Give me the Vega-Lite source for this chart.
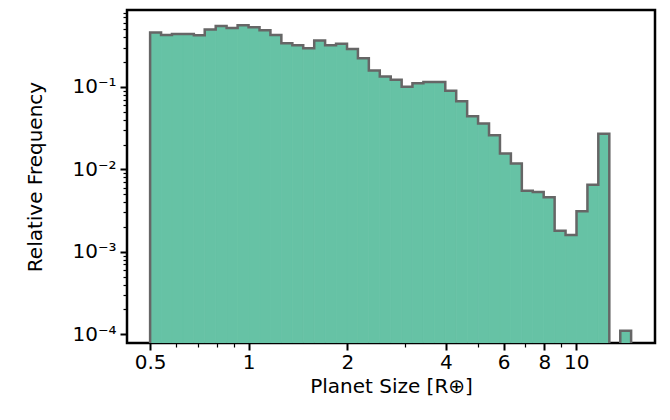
{
  "$schema": "https://vega.github.io/schema/vega-lite/v6.json",
  "width": 528,
  "height": 333,
  "autosize": {"type": "none"},
  "padding": {"left": 127, "top": 10, "right": 15, "bottom": 77},
  "config": {
    "view": {"stroke": "black", "strokeWidth": 2.5},
    "font": "DejaVu Sans",
    "axis": {"grid": false, "domain": false, "labelFont": "DejaVu Sans", "titleFont": "DejaVu Sans", "labelFontSize": 20, "titleFontSize": 20, "titleFontWeight": "normal", "labelColor": "black", "titleColor": "black", "tickColor": "black"}
  },
  "datasets": {
    "bins": [
      {"lo": 0.5, "hi": 0.54, "f": 0.457},
      {"lo": 0.54, "hi": 0.583, "f": 0.428},
      {"lo": 0.583, "hi": 0.63, "f": 0.44},
      {"lo": 0.63, "hi": 0.68, "f": 0.44},
      {"lo": 0.68, "hi": 0.734, "f": 0.425},
      {"lo": 0.734, "hi": 0.793, "f": 0.497},
      {"lo": 0.793, "hi": 0.856, "f": 0.55},
      {"lo": 0.856, "hi": 0.925, "f": 0.52},
      {"lo": 0.925, "hi": 0.999, "f": 0.56},
      {"lo": 0.999, "hi": 1.079, "f": 0.53},
      {"lo": 1.079, "hi": 1.165, "f": 0.49},
      {"lo": 1.165, "hi": 1.258, "f": 0.428},
      {"lo": 1.258, "hi": 1.359, "f": 0.339},
      {"lo": 1.359, "hi": 1.467, "f": 0.32},
      {"lo": 1.467, "hi": 1.585, "f": 0.295},
      {"lo": 1.585, "hi": 1.711, "f": 0.366},
      {"lo": 1.711, "hi": 1.848, "f": 0.32},
      {"lo": 1.848, "hi": 1.996, "f": 0.335},
      {"lo": 1.996, "hi": 2.155, "f": 0.29},
      {"lo": 2.155, "hi": 2.327, "f": 0.223},
      {"lo": 2.327, "hi": 2.513, "f": 0.158},
      {"lo": 2.513, "hi": 2.714, "f": 0.134},
      {"lo": 2.714, "hi": 2.931, "f": 0.122},
      {"lo": 2.931, "hi": 3.162, "f": 0.101},
      {"lo": 3.162, "hi": 3.415, "f": 0.111},
      {"lo": 3.415, "hi": 3.688, "f": 0.115},
      {"lo": 3.688, "hi": 3.983, "f": 0.115},
      {"lo": 3.983, "hi": 4.301, "f": 0.09},
      {"lo": 4.301, "hi": 4.645, "f": 0.067},
      {"lo": 4.645, "hi": 5.016, "f": 0.044},
      {"lo": 5.016, "hi": 5.417, "f": 0.036},
      {"lo": 5.417, "hi": 5.85, "f": 0.026},
      {"lo": 5.85, "hi": 6.317, "f": 0.0156},
      {"lo": 6.317, "hi": 6.822, "f": 0.0118},
      {"lo": 6.822, "hi": 7.367, "f": 0.0055},
      {"lo": 7.367, "hi": 7.956, "f": 0.0053},
      {"lo": 7.956, "hi": 8.592, "f": 0.0046},
      {"lo": 8.592, "hi": 9.278, "f": 0.0018},
      {"lo": 9.278, "hi": 10.02, "f": 0.0016},
      {"lo": 10.02, "hi": 10.82, "f": 0.0031},
      {"lo": 10.82, "hi": 11.68, "f": 0.0065},
      {"lo": 11.68, "hi": 12.62, "f": 0.027},
      {"lo": 13.63, "hi": 14.71, "f": 0.00011}
    ],
    "outline": [
      {"x": 0.5, "f": 0.00001, "seg": 1},
      {"x": 0.5, "f": 0.457, "seg": 1},
      {"x": 0.54, "f": 0.428, "seg": 1},
      {"x": 0.583, "f": 0.44, "seg": 1},
      {"x": 0.63, "f": 0.44, "seg": 1},
      {"x": 0.68, "f": 0.425, "seg": 1},
      {"x": 0.734, "f": 0.497, "seg": 1},
      {"x": 0.793, "f": 0.55, "seg": 1},
      {"x": 0.856, "f": 0.52, "seg": 1},
      {"x": 0.925, "f": 0.56, "seg": 1},
      {"x": 0.999, "f": 0.53, "seg": 1},
      {"x": 1.079, "f": 0.49, "seg": 1},
      {"x": 1.165, "f": 0.428, "seg": 1},
      {"x": 1.258, "f": 0.339, "seg": 1},
      {"x": 1.359, "f": 0.32, "seg": 1},
      {"x": 1.467, "f": 0.295, "seg": 1},
      {"x": 1.585, "f": 0.366, "seg": 1},
      {"x": 1.711, "f": 0.32, "seg": 1},
      {"x": 1.848, "f": 0.335, "seg": 1},
      {"x": 1.996, "f": 0.29, "seg": 1},
      {"x": 2.155, "f": 0.223, "seg": 1},
      {"x": 2.327, "f": 0.158, "seg": 1},
      {"x": 2.513, "f": 0.134, "seg": 1},
      {"x": 2.714, "f": 0.122, "seg": 1},
      {"x": 2.931, "f": 0.101, "seg": 1},
      {"x": 3.162, "f": 0.111, "seg": 1},
      {"x": 3.415, "f": 0.115, "seg": 1},
      {"x": 3.688, "f": 0.115, "seg": 1},
      {"x": 3.983, "f": 0.09, "seg": 1},
      {"x": 4.301, "f": 0.067, "seg": 1},
      {"x": 4.645, "f": 0.044, "seg": 1},
      {"x": 5.016, "f": 0.036, "seg": 1},
      {"x": 5.417, "f": 0.026, "seg": 1},
      {"x": 5.85, "f": 0.0156, "seg": 1},
      {"x": 6.317, "f": 0.0118, "seg": 1},
      {"x": 6.822, "f": 0.0055, "seg": 1},
      {"x": 7.367, "f": 0.0053, "seg": 1},
      {"x": 7.956, "f": 0.0046, "seg": 1},
      {"x": 8.592, "f": 0.0018, "seg": 1},
      {"x": 9.278, "f": 0.0016, "seg": 1},
      {"x": 10.02, "f": 0.0031, "seg": 1},
      {"x": 10.82, "f": 0.0065, "seg": 1},
      {"x": 11.68, "f": 0.027, "seg": 1},
      {"x": 12.62, "f": 0.00001, "seg": 1},
      {"x": 13.63, "f": 0.00001, "seg": 2},
      {"x": 13.63, "f": 0.00011, "seg": 2},
      {"x": 14.71, "f": 0.00001, "seg": 2}
    ]
  },
  "layer": [
    {
      "data": {"name": "bins"},
      "mark": {"type": "rect", "color": "#66c2a5", "stroke": "#66c2a5", "strokeWidth": 0.8, "clip": true},
      "encoding": {
        "x": {"field": "lo", "type": "quantitative", "scale": {"type": "log", "domain": [0.425, 17.4], "nice": false},
          "axis": {"title": "Planet Size [R⊕]", "titlePadding": 4,
            "values": [0.5, 0.6, 0.7, 0.8, 0.9, 1, 2, 3, 4, 5, 6, 7, 8, 9, 10],
            "labelExpr": "indexof([0.5,1,2,4,6,8,10], datum.value) >= 0 ? datum.label : ''",
            "tickSize": {"condition": {"test": "indexof([0.5,1,2,4,6,8,10], datum.value) >= 0", "value": 7}, "value": 4},
            "tickWidth": {"condition": {"test": "indexof([0.5,1,2,4,6,8,10], datum.value) >= 0", "value": 2}, "value": 1.2}}},
        "x2": {"field": "hi"},
        "y": {"field": "f", "type": "quantitative", "scale": {"type": "log", "domain": [0.000078, 0.86], "nice": false},
          "axis": {"title": "Relative Frequency", "titlePadding": 26, "labelPadding": 4,
            "values": [0.0001, 0.0002, 0.0003, 0.0004, 0.0005, 0.0006, 0.0007, 0.0008, 0.0009, 0.001, 0.002, 0.003, 0.004, 0.005, 0.006, 0.007, 0.008, 0.009, 0.01, 0.02, 0.03, 0.04, 0.05, 0.06, 0.07, 0.08, 0.09, 0.1, 0.2, 0.3, 0.4, 0.5, 0.6, 0.7, 0.8],
            "labelExpr": "abs(log(datum.value)/LN10 - round(log(datum.value)/LN10)) < 0.001 ? '10⁻' + ['','¹','²','³','⁴'][-round(log(datum.value)/LN10)] : ''",
            "tickSize": {"condition": {"test": "abs(log(datum.value)/LN10 - round(log(datum.value)/LN10)) < 0.001", "value": 7}, "value": 4},
            "tickWidth": {"condition": {"test": "abs(log(datum.value)/LN10 - round(log(datum.value)/LN10)) < 0.001", "value": 2}, "value": 1.2}}},
        "y2": {"datum": 0.00001}
      }
    },
    {
      "data": {"name": "outline"},
      "mark": {"type": "line", "interpolate": "step-after", "color": "#666666", "strokeWidth": 2.5, "clip": true},
      "encoding": {
        "x": {"field": "x", "type": "quantitative"},
        "y": {"field": "f", "type": "quantitative"},
        "detail": {"field": "seg"},
        "order": {"field": "x"}
      }
    }
  ]
}
